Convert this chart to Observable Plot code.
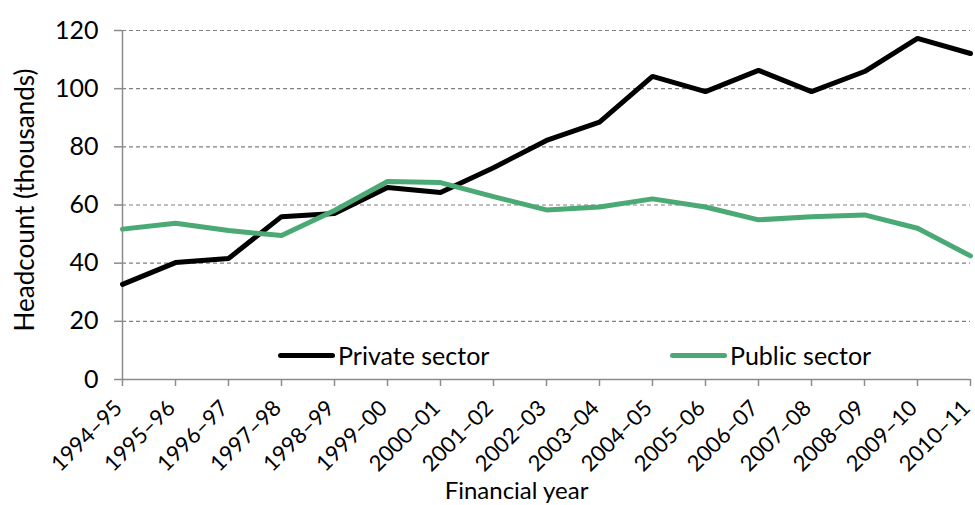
<!DOCTYPE html>
<html>
<head>
<meta charset="utf-8">
<script src="https://cdn.jsdelivr.net/npm/d3@7"></script>
<script src="https://cdn.jsdelivr.net/npm/@observablehq/plot@0.6"></script>
<style>
  html, body { margin: 0; padding: 0; background: #fff; }
  #wrap { position: relative; width: 975px; height: 505px; font-family: Lato, sans-serif; }
  .leg { position: absolute; display: flex; align-items: center; font-size: 25px; color: #000; line-height: 28px; }
  .leg .sw { width: 57px; height: 5px; border-radius: 3px; margin-right: 3px; }
</style>
</head>
<body>
<div id="wrap"></div>
<script>
const years = ["1994–95","1995–96","1996–97","1997–98","1998–99","1999–00","2000–01","2001–02","2002–03","2003–04","2004–05","2005–06","2006–07","2007–08","2008–09","2009–10","2010–11"];
const privateSector = [32.7, 40.2, 41.6, 56.0, 57.1, 66.0, 64.3, 72.8, 82.2, 88.5, 104.2, 99.0, 106.3, 99.0, 105.9, 117.3, 112.1];
const publicSector = [51.7, 53.7, 51.2, 49.5, 58.1, 68.1, 67.7, 62.9, 58.3, 59.3, 62.1, 59.3, 54.9, 56.0, 56.6, 52.0, 42.5];
const seriesNames = ["Private sector", "Public sector"];
const seriesColors = ["#000000", "#4aa975"];
const yTicks = [0, 20, 40, 60, 80, 100, 120];
const yLabel = "Headcount (thousands)";
const xLabel = "Financial year";

const data = years.flatMap((yr, i) => [
  {year: yr, sector: seriesNames[0], value: privateSector[i]},
  {year: yr, sector: seriesNames[1], value: publicSector[i]}
]);

const plot = Plot.plot({
  width: 975,
  height: 505,
  marginLeft: 122,
  marginRight: 5,
  marginTop: 30,
  marginBottom: 126,
  style: {fontFamily: "Lato, sans-serif", background: "#fff", color: "#000"},
  x: {type: "point", domain: years, padding: 0, label: null},
  y: {domain: [0, 120], label: null},
  color: {domain: seriesNames, range: seriesColors},
  marks: [
    Plot.gridY(yTicks, {stroke: "#808080", strokeOpacity: 1, strokeWidth: 1.2, strokeDasharray: "4,3"}),
    Plot.axisY(yTicks, {tickSize: 8, tickPadding: 16, fontSize: 25, stroke: "#8c8c8c", strokeWidth: 1.5, label: null}),
    Plot.text([yLabel], {frameAnchor: "left", rotate: -90, dx: -97, dy: -5, fontSize: 26, textAnchor: "middle", lineAnchor: "middle", fill: "#000"}),
    Plot.axisX({tickSize: 7, tickFormat: () => "", stroke: "#8c8c8c", strokeWidth: 1.5, label: null}),
    Plot.axisX({tickSize: 0, tickPadding: 25, tickRotate: -45, fontSize: 22, dx: -4, label: null}),
    Plot.ruleY([0], {stroke: "#8c8c8c", strokeWidth: 1.5}),
    Plot.ruleX([years[0]], {y1: 0, y2: 120, stroke: "#8c8c8c", strokeWidth: 1.5}),
    Plot.line(data, {x: "year", y: "value", z: "sector", stroke: "sector", strokeWidth: 5, strokeLinejoin: "miter", strokeLinecap: "round"}),
    Plot.text([xLabel], {frameAnchor: "bottom", dx: -30, dy: 119, fontSize: 24, fill: "#000"})
  ]
});

const wrap = document.getElementById("wrap");
wrap.appendChild(plot);

const legPos = [{left: 278, top: 341}, {left: 670, top: 341}];
seriesNames.forEach((name, i) => {
  const d = document.createElement("div");
  d.className = "leg";
  d.style.left = legPos[i].left + "px";
  d.style.top = legPos[i].top + "px";
  d.innerHTML = `<span class="sw" style="background:${seriesColors[i]}"></span><span>${name}</span>`;
  wrap.appendChild(d);
});
</script>
</body>
</html>
